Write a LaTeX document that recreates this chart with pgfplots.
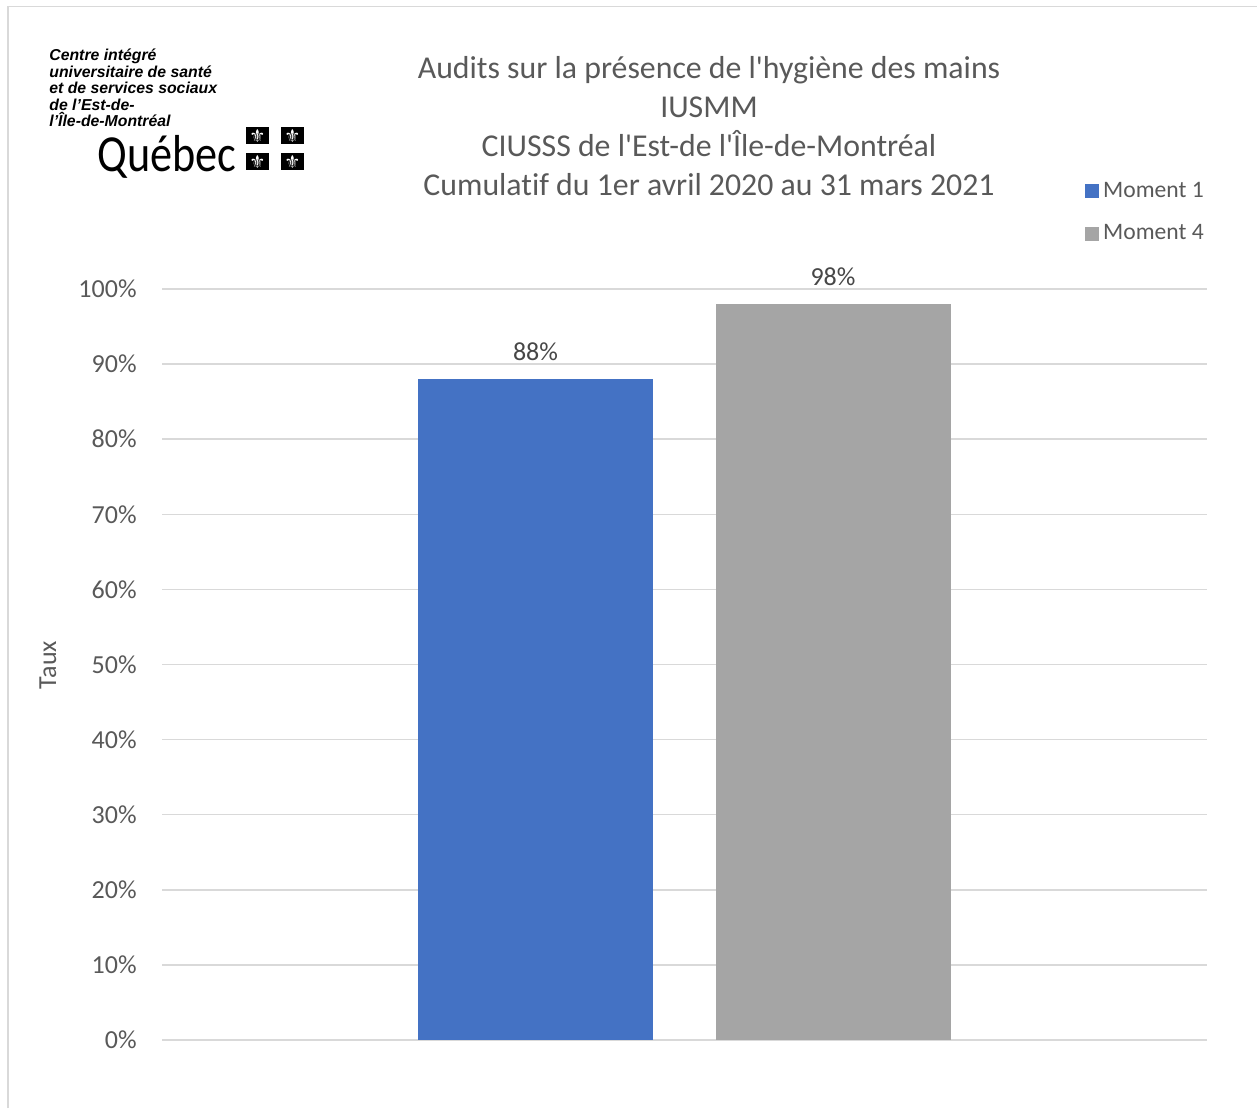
\documentclass[border=0pt]{standalone}
\usepackage{pgfplots}
\pgfplotsset{compat=1.18}
\usepackage{fontspec}
\setmainfont{Carlito}[Ligatures=NoCommon]
\newfontfamily\logofont{Liberation Sans}
\newfontfamily\symfont{DejaVu Sans}
\definecolor{cblue}{HTML}{4472C4}
\definecolor{cgray}{HTML}{A5A5A5}
\definecolor{ctext}{HTML}{595959}
\definecolor{cgrid}{HTML}{D9D9D9}
\begin{document}
\begin{tikzpicture}
\useasboundingbox (0,0) rectangle (628.5pt,-554pt);
\begin{axis}[
  at={(81pt,-520pt)}, anchor=south west,
  scale only axis, width=522.5pt, height=375.5pt,
  xmin=162, xmax=1207, ymin=0, ymax=100,
  axis line style={draw=none},
  xtick=\empty,
  ytick={0,10,...,100},
  yticklabel={\pgfmathprintnumber{\tick}\%},
  yticklabel style={font=\fontsize{13}{15}\selectfont, text=ctext, inner sep=0pt, xshift=-12.5pt},
  /pgf/number format/assume math mode=true,
  major tick length=0pt,
  ymajorgrids, major grid style={draw=cgrid, line width=0.75pt},
  ybar, bar width=117.5pt, bar shift=0pt,
  nodes near coords={\pgfmathprintnumber{\pgfplotspointmeta}\%},
  nodes near coords style={font=\fontsize{13}{15}\selectfont, text=ctext!80!black, /pgf/number format/assume math mode=true, inner sep=5pt, yshift=4pt},
  legend style={at={(0.883,1.148)}, anchor=north west, draw=none, fill=none, inner sep=0pt,
     font=\fontsize{11.8}{14}\selectfont, text=ctext, row sep=8pt, /tikz/every even column/.append style={column sep=3pt}},
  legend cell align=left,
  legend image code/.code={\fill[#1] (0pt,-3.5pt) rectangle (7pt,3.5pt);},
]
\addplot[fill=cblue, draw=none] coordinates {(535.5,88)};
\addplot[fill=cgray, draw=none] coordinates {(833,98)};
\legend{Moment 1, Moment 4}
\end{axis}
\begin{scope}[x=0.5pt,y=-0.5pt]
  % frame
  \draw[cgrid, line width=0.75pt] (8,1108) -- (8,6.5) -- (1257,6.5);
  % title
  \node[text=ctext, align=center, font=\fontsize{15.9}{19.5}\selectfont] at (709,126.5)
    {Audits sur la présence de l\textquotesingle hygiène des mains\\IUSMM\\CIUSSS de l\textquotesingle Est-de l\textquotesingle Île-de-Montréal\\Cumulatif du 1er avril 2020 au 31 mars 2021};
  % y label
  \node[text=ctext, rotate=90, font=\fontsize{13}{15}\selectfont] at (48,665) {Taux};
  % logo
  \node[anchor=north west, align=left, inner sep=0pt, font=\logofont\bfseries\itshape\fontsize{7.9}{8.25}\selectfont] at (49,49)
    {Centre intégré\\universitaire de santé\\et de services sociaux\\de l’Est-de-\\l’Île-de-Montréal};
  \node[anchor=base west, inner sep=0pt, font=\fontsize{26}{30}\selectfont, xscale=0.85] at (97,171) {Québec};
  \foreach \fx in {246,281} \foreach \fy in {127,153} {
    \fill[black] (\fx,\fy) rectangle (\fx+23,\fy+17);
    \node[white, inner sep=0pt, font=\symfont\fontsize{9}{10}\selectfont] at (\fx+11.5,\fy+8.5) {⚜};
  }
\end{scope}
\end{tikzpicture}
\end{document}
